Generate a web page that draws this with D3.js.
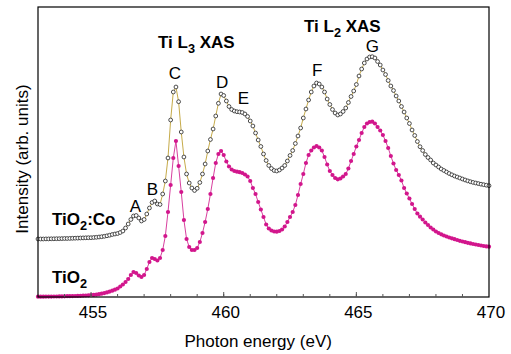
<!DOCTYPE html>
<html>
<head>
<meta charset="utf-8">
<script src="https://cdn.jsdelivr.net/npm/d3@7"></script>
<style>
  html, body { margin: 0; padding: 0; background: #fff; }
  svg { display: block; }
  text { font-family: "Liberation Sans", Arial, Helvetica, sans-serif; fill: #000; }
</style>
</head>
<body>
<svg id="chart" width="511" height="354"></svg>
<script>
// Ti L2,3-edge X-ray absorption spectra, sampled every 0.1 eV from 453.0 to 470.0 eV
const energyStart = 453.0;
const energyStep = 0.1;

// TiO2:Co intensity (arb. units)
const tio2Co = [
  58.0, 58.0, 58.0, 58.1, 58.1, 58.2, 58.2, 58.3, 58.3, 58.4,
  58.5, 58.5, 58.6, 58.7, 58.8, 58.9, 59.0, 59.1, 59.2, 59.3,
  59.3, 59.5, 59.7, 60.0, 60.3, 60.7, 61.2, 61.8, 62.5, 63.0,
  63.5, 64.5, 66.0, 69.0, 73.0, 77.5, 81.0, 81.5, 79.0, 76.0,
  77.5, 83.0, 89.0, 94.5, 96.0, 93.0, 92.5, 103.0, 116.0, 139.0,
  177.0, 205.0, 210.0, 195.3, 165.0, 140.0, 123.0, 114.0, 109.0, 106.5,
  108.7, 114.5, 123.0, 133.0, 146.0, 157.5, 168.0, 181.0, 193.7, 203.0,
  201.5, 196.0, 190.5, 187.5, 186.0, 185.3, 185.0, 184.5, 183.0, 180.5,
  176.0, 171.0, 164.0, 157.0, 150.5, 143.0, 136.5, 131.5, 128.5, 126.5,
  126.0, 127.0, 129.0, 131.5, 136.0, 141.5, 146.5, 153.5, 161.0, 169.0,
  179.0, 188.0, 197.0, 205.0, 211.0, 214.0, 213.0, 210.0, 205.0, 198.0,
  192.5, 187.5, 184.0, 182.0, 183.0, 185.5, 189.0, 194.5, 200.5, 206.0,
  212.5, 221.0, 228.0, 234.0, 238.0, 240.0, 240.3, 239.0, 235.5, 232.0,
  227.0, 222.5, 216.5, 211.0, 206.5, 201.0, 196.0, 190.5, 185.0, 179.0,
  173.5, 167.0, 161.5, 155.5, 150.3, 146.5, 142.5, 139.5, 137.0, 134.0,
  132.0, 130.0, 128.0, 126.5, 125.0, 123.5, 122.2, 121.0, 120.0, 119.0,
  118.0, 117.0, 116.1, 115.3, 114.6, 114.0, 113.4, 112.8, 112.3, 111.8,
  111.3
];

// TiO2 intensity (arb. units)
const tio2 = [
  0.3, 0.3, 0.3, 0.4, 0.4, 0.4, 0.5, 0.5, 0.6, 0.6,
  0.7, 0.8, 0.8, 0.9, 1.0, 1.1, 1.2, 1.4, 1.5, 1.7,
  1.9, 2.1, 2.4, 2.8, 3.3, 3.9, 4.6, 5.4, 6.3, 7.3,
  8.5, 10.5, 12.5, 15.0, 18.0, 22.0, 25.0, 24.0, 21.5, 20.0,
  22.0, 28.0, 35.0, 39.0, 38.0, 36.5, 39.0, 47.0, 61.0, 85.0,
  112.0, 139.0, 156.0, 131.0, 105.0, 77.0, 58.0, 50.0, 47.0, 47.0,
  49.0, 55.0, 64.0, 75.0, 88.0, 103.0, 119.0, 134.0, 143.0, 146.0,
  142.0, 135.5, 130.5, 127.5, 126.0, 125.3, 124.8, 124.0, 122.5, 120.5,
  116.0, 109.0, 103.0, 95.0, 87.5, 80.0, 72.5, 68.5, 66.5, 65.5,
  65.3, 66.0, 67.5, 70.5, 75.0, 80.0, 85.0, 92.0, 102.0, 113.0,
  123.0, 134.0, 142.0, 146.5, 149.5, 151.0, 149.5, 146.5, 140.0, 132.5,
  126.0, 122.0, 119.0, 117.7, 118.5, 120.5, 123.0, 128.5, 136.0, 143.0,
  150.5, 157.0, 164.0, 170.0, 173.5, 175.0, 175.3, 173.5, 170.0, 166.5,
  162.0, 156.0, 149.0, 141.0, 133.5, 127.0, 122.0, 116.5, 109.0, 103.5,
  98.5, 93.0, 88.0, 83.5, 80.3, 77.5, 74.5, 72.0, 69.5, 67.5,
  65.5, 64.0, 62.7, 61.5, 60.5, 59.5, 58.7, 57.8, 57.0, 56.2,
  55.5, 54.8, 54.2, 53.6, 53.0, 52.5, 52.0, 51.5, 51.0, 50.6,
  50.3
];

// axis ticks
const majorTicks = [455, 460, 465, 470];
const minorTicks = [454, 455, 456, 457, 458, 459, 460, 461, 462, 463, 464, 465, 466, 467, 468, 469];

// feature labels: letter, energy (eV), intensity at label baseline
const featureNames = ["A", "B", "C", "D", "E", "F", "G"];
const featureEnergy = [456.67, 457.31, 458.16, 459.94, 460.74, 463.52, 465.6];
const featureLevel = [85, 102, 218, 209, 193, 221, 245];

const svg = d3.select("#chart");
const margin = { left: 38, right: 22, top: 7, bottom: 57 };
const W = 511, H = 354;
const innerW = W - margin.left - margin.right;
const innerH = H - margin.top - margin.bottom;

const x = d3.scaleLinear().domain([453, 470]).range([margin.left, margin.left + innerW]);
const y = d3.scaleLinear().domain([0, 290]).range([margin.top + innerH, margin.top]);

const toPoints = arr => arr.map((v, i) => ({ e: energyStart + i * energyStep, v }));
const ptsCo = toPoints(tio2Co);
const ptsTi = toPoints(tio2);

const line = d3.line().x(d => x(d.e)).y(d => y(d.v));

const plot = svg.append("g");

// TiO2: magenta filled dots joined by a thin line
plot.append("path").datum(ptsTi)
  .attr("d", line).attr("fill", "none")
  .attr("stroke", "#d8409f").attr("stroke-width", 1);
plot.append("g").selectAll("circle").data(ptsTi).join("circle")
  .attr("cx", d => x(d.e)).attr("cy", d => y(d.v)).attr("r", 2.1)
  .attr("fill", "#d2168c");

// TiO2:Co: open black circles joined by an olive line
plot.append("path").datum(ptsCo)
  .attr("d", line).attr("fill", "none")
  .attr("stroke", "#c6ab4a").attr("stroke-width", 1);
plot.append("g").selectAll("circle").data(ptsCo).join("circle")
  .attr("cx", d => x(d.e)).attr("cy", d => y(d.v)).attr("r", 1.9)
  .attr("fill", "#fff").attr("stroke", "#222").attr("stroke-width", 0.8);

// frame
svg.append("rect")
  .attr("x", margin.left).attr("y", margin.top)
  .attr("width", innerW).attr("height", innerH)
  .attr("fill", "none").attr("stroke", "#000").attr("stroke-width", 1.2);

// inward ticks on the energy axis
const bottomY = margin.top + innerH;
svg.append("g").selectAll("line.minor").data(minorTicks).join("line")
  .attr("x1", d => x(d)).attr("x2", d => x(d))
  .attr("y1", bottomY).attr("y2", bottomY - 3)
  .attr("stroke", "#555").attr("stroke-width", 1);
svg.append("g").selectAll("line.major").data(majorTicks.filter(t => t < 470)).join("line")
  .attr("x1", d => x(d)).attr("x2", d => x(d))
  .attr("y1", bottomY).attr("y2", bottomY - 5)
  .attr("stroke", "#555").attr("stroke-width", 1);

// tick labels
svg.append("g").selectAll("text").data(majorTicks).join("text")
  .attr("x", d => x(d) + 2).attr("y", bottomY + 21)
  .attr("text-anchor", "middle").attr("font-size", 17)
  .text(d => d);

// axis titles
svg.append("text")
  .attr("x", x(461.3)).attr("y", 347)
  .attr("text-anchor", "middle").attr("font-size", 17)
  .text("Photon energy (eV)");
svg.append("text")
  .attr("transform", "translate(28," + (margin.top + innerH / 2 + 7) + ") rotate(-90)")
  .attr("text-anchor", "middle").attr("font-size", 17)
  .text("Intensity (arb. units)");

// text with a subscript part
function subText(px, py, parts, size) {
  const t = svg.append("text").attr("x", px).attr("y", py)
    .attr("font-size", size).attr("font-weight", "bold");
  parts.forEach(p => {
    const s = t.append("tspan").text(p.t);
    if (p.sub) s.attr("font-size", size * 0.75).attr("dy", 5);
    if (p.up) s.attr("dy", -5);
  });
}
subText(158, 48, [{ t: "Ti L" }, { t: "3", sub: true }, { t: " XAS", up: true }], 17);
subText(304, 32, [{ t: "Ti L" }, { t: "2", sub: true }, { t: " XAS", up: true }], 17);
subText(52, 225, [{ t: "TiO" }, { t: "2", sub: true }, { t: ":Co", up: true }], 17);
subText(52, 283, [{ t: "TiO" }, { t: "2", sub: true }], 17);

// peak letters
svg.append("g").selectAll("text").data(featureNames).join("text")
  .attr("x", (d, i) => x(featureEnergy[i]))
  .attr("y", (d, i) => y(featureLevel[i]))
  .attr("text-anchor", "middle").attr("font-size", 17)
  .text(d => d);
</script>
</body>
</html>
